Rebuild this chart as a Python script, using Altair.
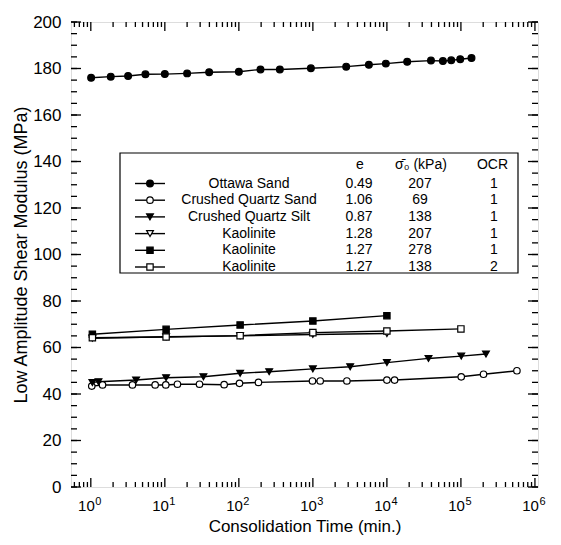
import altair as alt
import pandas as pd

# ---------------- data ----------------
ottawa_t = [1.01, 1.86, 3.19, 5.47, 10.0, 20.0, 39.7, 100, 196, 358, 940, 2820, 5710,
            9680, 18800, 39400, 57100, 74000, 97900, 139000]
ottawa_g = [176.0, 176.5, 176.8, 177.5, 177.6, 177.9, 178.4, 178.6, 179.6, 179.6, 180.1,
            180.8, 181.6, 182.1, 182.9, 183.4, 183.2, 183.5, 184.0, 184.5]

cqsand_t = [1.03, 1.44, 3.65, 7.4, 10.3, 14.8, 29.4, 63.3, 102, 184, 988, 1256, 2880,
            10000, 12700, 101000, 202000, 571000]
cqsand_g = [43.4, 43.9, 43.9, 43.9, 43.9, 44.2, 44.2, 44.0, 44.6, 45.0, 45.6, 45.6, 45.6,
            46.0, 46.0, 47.4, 48.5, 50.0]

cqsilt_t = [1.05, 1.27, 4.09, 10.4, 33.2, 104, 257, 1000, 3190, 10000, 36500, 101000, 218000]
cqsilt_g = [44.9, 45.3, 46.0, 47.0, 47.4, 48.9, 49.6, 50.8, 51.7, 53.5, 55.3, 56.3, 57.2]

k207_t = [1.05, 10.4, 104, 1000, 10000]
k207_g = [64.0, 64.6, 65.0, 65.6, 66.0]

k278_t = [1.05, 10.4, 104, 1000, 10000]
k278_g = [65.7, 67.8, 69.7, 71.4, 73.7]

k138_t = [1.05, 10.4, 104, 1000, 10000, 100000]
k138_g = [64.2, 64.5, 65.1, 66.4, 67.1, 68.0]

legend_names = ["Ottawa Sand", "Crushed Quartz Sand", "Crushed Quartz Silt",
                "Kaolinite", "Kaolinite", "Kaolinite"]
legend_e = ["0.49", "1.06", "0.87", "1.28", "1.27", "1.27"]
legend_sigma = ["207", "69", "138", "207", "278", "138"]
legend_ocr = ["1", "1", "1", "1", "1", "2"]
legend_header = ["e", "σ\u0304\u2080  (kPa)", "OCR"]

y_major = list(range(0, 201, 20))
y_minor = list(range(0, 201, 5))
x_decades = [1, 10, 100, 1000, 10000, 100000, 1000000]
x_exponents = ["0", "1", "2", "3", "4", "5", "6"]

# ---------------- layout ----------------
W, H = 467, 465
FONT = "Liberation Sans"
xscale = alt.Scale(type="log", domain=[0.54, 1.1e6], nice=False)
yscale = alt.Scale(domain=[0, 200], nice=False, zero=False)

series_defs = [
    ("s1", ottawa_t, ottawa_g, "circle", "black", 46),
    ("s2", cqsand_t, cqsand_g, "circle", "white", 42),
    ("s3", cqsilt_t, cqsilt_g, "triangle-down", "black", 46),
    ("s4", k207_t, k207_g, "triangle-down", "white", 46),
    ("s5", k278_t, k278_g, "square", "black", 40),
    ("s6", k138_t, k138_g, "square", "white", 40),
]

frames = []
for sid, t, g, shape, fill, size in series_defs:
    frames.append(pd.DataFrame({"sid": sid, "t": t, "g": g}))
all_df = pd.concat(frames, ignore_index=True)

minor_x = []
for d in range(-1, 6):
    for k in range(2, 10):
        v = k * 10 ** d
        if 0.54 < v < 1.1e6:
            minor_x.append(v)

layers = []

# lines (carry the axes) -- first layer
lines = alt.Chart(all_df).mark_line(color="black", strokeWidth=1.4).encode(
    x=alt.X("t:Q", scale=xscale,
            axis=alt.Axis(labels=False, ticks=False, domain=False, grid=False,
                          title="Consolidation Time (min.)", titleFont=FONT,
                          titleFontSize=17, titleFontWeight="normal",
                          titleColor="black", titlePadding=31)),
    y=alt.Y("g:Q", scale=yscale,
            axis=alt.Axis(values=y_major, ticks=False, domain=False, grid=False,
                          labelFont=FONT, labelFontSize=17, labelColor="black",
                          labelPadding=10,
                          title="Low Amplitude Shear Modulus (MPa)", titleFont=FONT,
                          titleFontSize=18, titleFontWeight="normal",
                          titleColor="black", titlePadding=2)),
    detail="sid:N",
)
layers.append(lines)

# inward ticks
def xticks(vals, length):
    df = pd.DataFrame({"t": vals})
    base = alt.Chart(df).mark_rule(color="black", strokeWidth=1.3)
    bottom = base.encode(x=alt.X("t:Q", scale=xscale, axis=None),
                         y=alt.value(H), y2=alt.value(H - length))
    top = base.encode(x=alt.X("t:Q", scale=xscale, axis=None),
                      y=alt.value(0), y2=alt.value(length))
    return [bottom, top]

def yticks(vals, length):
    df = pd.DataFrame({"g": vals})
    base = alt.Chart(df).mark_rule(color="black", strokeWidth=1.3)
    left = base.encode(y=alt.Y("g:Q", scale=yscale, axis=None),
                       x=alt.value(0), x2=alt.value(length))
    right = base.encode(y=alt.Y("g:Q", scale=yscale, axis=None),
                        x=alt.value(W - length), x2=alt.value(W))
    return [left, right]

layers += xticks(minor_x, 5) + xticks(x_decades, 9)
layers += yticks(y_minor, 6) + yticks(y_major, 10)

for sid, t, g, shape, fill, size in series_defs:
    df = pd.DataFrame({"t": t, "g": g})
    layers.append(
        alt.Chart(df).mark_point(shape=shape, filled=True, fill=fill, stroke="black",
                                 strokeWidth=1.2, size=size, opacity=1).encode(
            x=alt.X("t:Q", scale=xscale, axis=None),
            y=alt.Y("g:Q", scale=yscale, axis=None),
        )
    )

# x-axis labels 10^n
dec_df = pd.DataFrame({"t": x_decades, "base": ["10"] * len(x_decades), "exp": x_exponents})
layers.append(alt.Chart(dec_df).mark_text(font=FONT, fontSize=15, align="right",
                                          baseline="alphabetic", dx=4, color="black").encode(
    x=alt.X("t:Q", scale=xscale, axis=None), y=alt.value(H + 24), text="base:N"))
layers.append(alt.Chart(dec_df).mark_text(font=FONT, fontSize=11, align="left",
                                          baseline="alphabetic", dx=4.5, color="black").encode(
    x=alt.X("t:Q", scale=xscale, axis=None), y=alt.value(H + 18), text="exp:N"))

# ---------------- legend table ----------------
one_df = pd.DataFrame({"a": [0]})
layers.append(alt.Chart(one_df).mark_rect(fill="white", stroke="black", strokeWidth=1.2).encode(
    x=alt.value(49), x2=alt.value(447), y=alt.value(131), y2=alt.value(251)))

for hx, ht in zip([289, 350, 421.5], legend_header):
    layers.append(alt.Chart(pd.DataFrame({"txt": [ht]})).mark_text(
        font=FONT, fontSize=14, align="center", baseline="middle", color="black").encode(
        x=alt.value(hx), y=alt.value(143), text="txt:N"))

for i, (sid, t, g, shape, fill, size) in enumerate(series_defs):
    ly = 161.5 + 16.7 * i
    row = pd.DataFrame({"name": [legend_names[i]], "e": [legend_e[i]],
                        "sig": [legend_sigma[i]], "ocr": [legend_ocr[i]]})
    layers.append(alt.Chart(row).mark_rule(color="black", strokeWidth=1.4).encode(
        x=alt.value(64), x2=alt.value(94), y=alt.value(ly)))
    layers.append(alt.Chart(row).mark_point(shape=shape, filled=True, fill=fill, stroke="black",
                                            strokeWidth=1.2, size=size, opacity=1).encode(
        x=alt.value(79), y=alt.value(ly)))
    for col, xpos in [("name", 178), ("e", 288), ("sig", 349), ("ocr", 423)]:
        layers.append(alt.Chart(row).mark_text(font=FONT, fontSize=14, align="center",
                                               baseline="middle", color="black").encode(
            x=alt.value(xpos), y=alt.value(ly), text=f"{col}:N"))

chart = alt.layer(*layers).resolve_axis(x="independent", y="independent").properties(
    width=W, height=H,
    autosize=alt.AutoSizeParams(type="none"),
    padding={"left": 63, "top": 14, "right": 15, "bottom": 50},
).configure_view(stroke="black", strokeWidth=2).configure(background="white")

chart.save("out.html", embed_options={"renderer": "svg", "actions": False})
